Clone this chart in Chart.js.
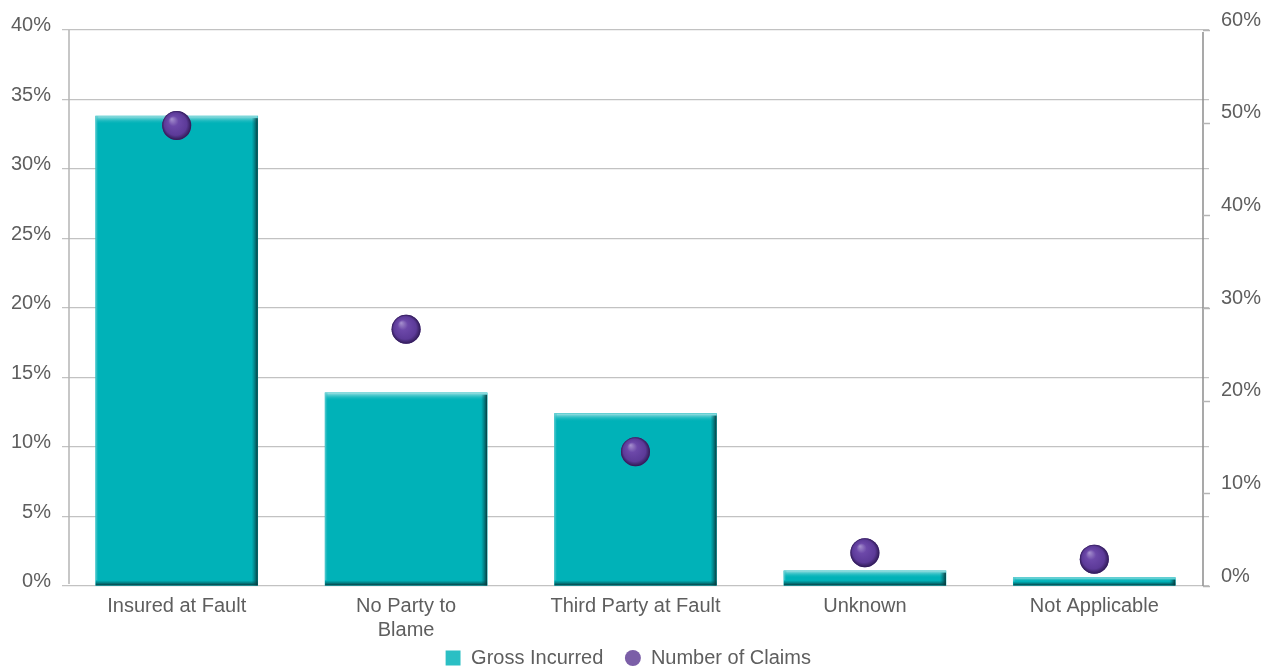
<!DOCTYPE html>
<html>
<head>
<meta charset="utf-8">
<title>Gross Incurred vs Number of Claims by Fault</title>
<script src="https://cdn.jsdelivr.net/npm/chart.js@4.4.1/dist/chart.umd.min.js"></script>
<style>
  html, body { margin: 0; padding: 0; background: #ffffff; }
  #wrap { width: 1276px; height: 670px; }
</style>
</head>
<body>
<div id="wrap"><canvas id="faultChart" width="1276" height="670"></canvas></div>
<script>
const CATEGORIES = ['Insured at Fault', ['No Party to', 'Blame'], 'Third Party at Fault', 'Unknown', 'Not Applicable'];
const GROSS_INCURRED = [33.8, 13.9, 12.4, 1.1, 0.6];
const NUMBER_OF_CLAIMS = [49.7, 27.7, 14.5, 3.6, 2.9];
const LEFT_MAX = 40, LEFT_STEP = 5;
const RIGHT_MAX = 60, RIGHT_STEP = 10;

const TEAL = '#00b2b8';
const PURPLE = '#6441a0';
const TEXT = '#5e5e5e';
const FONT = { family: '"Liberation Sans", Arial, sans-serif', size: 20 };

// Axis lines sit a few pixels inside the grid ends; right axis gets short ticks
const axisLines = {
  id: 'axisLines',
  beforeDatasetsDraw(chart) {
    const { ctx, chartArea } = chart;
    const y1 = chart.scales.y1;
    const lx = chartArea.left + 7;
    const rx = chartArea.right - 6;
    ctx.save();
    ctx.lineWidth = 1.5;
    ctx.strokeStyle = '#b4b4b4';
    ctx.beginPath();
    ctx.moveTo(lx, chartArea.top);
    ctx.lineTo(lx, chartArea.bottom - 2);
    ctx.stroke();
    ctx.strokeStyle = '#8c8c8c';
    ctx.beginPath();
    ctx.moveTo(rx, chartArea.top + 2);
    ctx.lineTo(rx, chartArea.bottom);
    ctx.stroke();
    ctx.strokeStyle = '#b4b4b4';
    y1.ticks.forEach(t => {
      const py = Math.round(y1.getPixelForValue(t.value)) + 0.5;
      ctx.beginPath();
      ctx.moveTo(rx, py);
      ctx.lineTo(chartArea.right + 1, py);
      ctx.stroke();
    });
    ctx.restore();
  }
};

// Bevel shading on bars and glossy shading on the claim markers
const shading = {
  id: 'shading',
  afterDatasetDraw(chart, args) {
    const { ctx } = chart;
    const meta = args.meta;
    ctx.save();
    if (meta.type === 'bar') {
      meta.data.forEach(bar => {
        const { x, y, base, width } = bar.getProps(['x', 'y', 'base', 'width'], true);
        const l = x - width / 2, r = x + width / 2, h = base - y;
        const th = Math.min(8, h / 2);
        let g = ctx.createLinearGradient(0, y, 0, y + th);
        g.addColorStop(0, 'rgba(165,226,228,1)');
        g.addColorStop(1, 'rgba(0,178,184,0)');
        ctx.fillStyle = g;
        ctx.fillRect(l, y, width, th);
        const bh = Math.min(5, h / 2);
        g = ctx.createLinearGradient(0, base - bh, 0, base);
        g.addColorStop(0, 'rgba(0,90,94,0)');
        g.addColorStop(1, 'rgba(8,52,55,0.95)');
        ctx.fillStyle = g;
        ctx.fillRect(l, base - bh, width, bh);
        g = ctx.createLinearGradient(r - 6, 0, r, 0);
        g.addColorStop(0, 'rgba(0,90,94,0)');
        g.addColorStop(1, 'rgba(8,52,55,0.95)');
        ctx.fillStyle = g;
        ctx.fillRect(r - 6, y + 2, 6, h - 2);
        g = ctx.createLinearGradient(l, 0, l + 3, 0);
        g.addColorStop(0, 'rgba(120,210,214,0.8)');
        g.addColorStop(1, 'rgba(0,178,184,0)');
        ctx.fillStyle = g;
        ctx.fillRect(l, y, 3, h - bh);
      });
    } else {
      meta.data.forEach(pt => {
        const { x, y } = pt.getProps(['x', 'y'], true);
        const rad = pt.options.radius;
        const g = ctx.createRadialGradient(x - rad * 0.35, y - rad * 0.45, 0, x, y, rad);
        g.addColorStop(0, '#a792cf');
        g.addColorStop(0.35, '#6c48a9');
        g.addColorStop(0.78, '#5c3a98');
        g.addColorStop(1, '#2f1a55');
        ctx.fillStyle = g;
        ctx.beginPath();
        ctx.arc(x, y, rad, 0, Math.PI * 2);
        ctx.fill();
      });
    }
    ctx.restore();
  }
};

new Chart(document.getElementById('faultChart'), {
  data: {
    labels: CATEGORIES,
    datasets: [
      {
        type: 'bar',
        label: 'Gross Incurred',
        data: GROSS_INCURRED,
        backgroundColor: TEAL,
        yAxisID: 'y',
        order: 1,
        barThickness: 162
      },
      {
        type: 'line',
        label: 'Number of Claims',
        data: NUMBER_OF_CLAIMS,
        showLine: false,
        yAxisID: 'y1',
        order: 0,
        pointRadius: 14.5,
        pointHoverRadius: 14.5,
        pointBackgroundColor: PURPLE,
        pointBorderWidth: 0,
        backgroundColor: PURPLE
      }
    ]
  },
  options: {
    responsive: false,
    animation: false,
    layout: { padding: { top: 30, bottom: -8, left: 0, right: 0 } },
    plugins: {
      tooltip: { enabled: false },
      legend: {
        position: 'bottom',
        labels: {
          usePointStyle: true,
          boxWidth: 16,
          boxHeight: 11.3,
          padding: 6,
          color: TEXT,
          font: FONT,
          sort: (a, b) => a.datasetIndex - b.datasetIndex,
          generateLabels(chart) {
            const items = Chart.defaults.plugins.legend.labels.generateLabels(chart);
            items.forEach(item => {
              if (item.datasetIndex === 0) {
                item.text += '\u2002 ';
                item.pointStyle = 'rect';
                item.fillStyle = '#2bbfc4';
                item.strokeStyle = '#2bbfc4';
                item.lineWidth = 3.6;
              } else {
                item.text += '\u2002\u2002';
                item.pointStyle = 'circle';
                item.fillStyle = '#7b5ea7';
                item.strokeStyle = '#7b5ea7';
                item.lineWidth = 0;
              }
            });
            return items;
          }
        }
      }
    },
    scales: {
      x: {
        offset: true,
        grid: { display: false, drawTicks: false },
        border: { display: false },
        ticks: { color: TEXT, font: FONT, padding: 8, maxRotation: 0 },
        afterFit(s) { s.height = 56; }
      },
      y: {
        position: 'left',
        min: 0,
        max: LEFT_MAX,
        grid: { color: '#c2c2c2', lineWidth: 1.3, drawTicks: false },
        border: { display: false },
        ticks: {
          stepSize: LEFT_STEP,
          color: TEXT,
          font: FONT,
          padding: 11,
          labelOffset: -4.5,
          callback: v => v + '%'
        },
        afterFit(s) { s.width = 62; }
      },
      y1: {
        position: 'right',
        min: 0,
        max: RIGHT_MAX,
        grid: { drawOnChartArea: false, drawTicks: false },
        border: { display: false },
        ticks: {
          stepSize: RIGHT_STEP,
          color: TEXT,
          font: FONT,
          padding: 12,
          labelOffset: -10,
          callback: v => v + '%'
        },
        afterFit(s) { s.width = 67; }
      }
    }
  },
  plugins: [axisLines, shading]
});
</script>
</body>
</html>
